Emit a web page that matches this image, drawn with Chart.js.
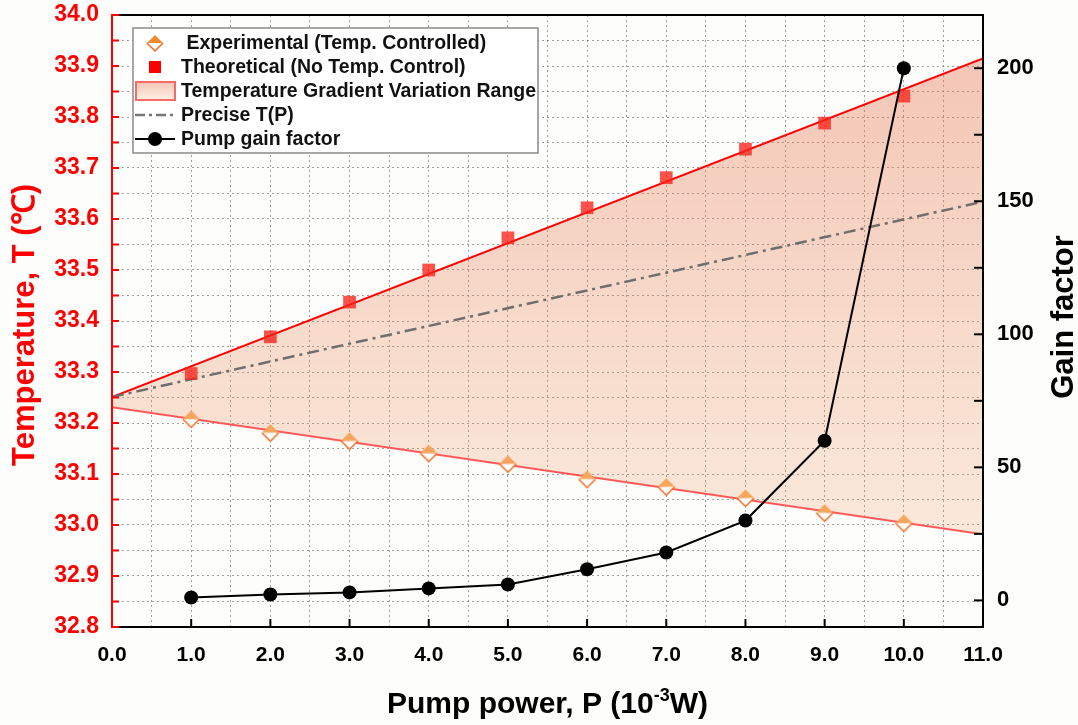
<!DOCTYPE html>
<html lang="en">
<head>
  <meta charset="UTF-8">
  <title>Temperature and gain factor vs pump power</title>
  <script src="https://cdn.jsdelivr.net/npm/chart.js"></script>
  <style>
    html, body { margin: 0; padding: 0; background: #fdfdfb; }
    #wrap { width: 1078px; height: 725px; position: relative; }
  </style>
</head>
<body>
  <div id="wrap"><canvas id="grafico"></canvas></div>

  <script>
    // values
    const powerP = [1, 2, 3, 4, 5, 6, 7, 8, 9, 10];
    const experimentalT = [33.208, 33.181, 33.165, 33.141, 33.120, 33.090, 33.075, 33.053, 33.024, 33.004];
    const theoreticalT = [33.297, 33.369, 33.437, 33.500, 33.563, 33.622, 33.681, 33.737, 33.788, 33.841];
    const gainFactor = [1.1, 2.2, 3.0, 4.5, 6.0, 11.7, 18.0, 30.0, 60.0, 200.0];
    // straight lines across the whole axis
    const rangeP = [0, 11];
    const upperT = [33.251, 33.915];
    const lowerT = [33.231, 32.982];
    const preciseT = [33.251, 33.634];

    // tick labels
    const xLabelTicks = [0, 1, 2, 3, 4, 5, 6, 7, 8, 9, 10, 11];
    const tempLabelTicks = [32.8, 32.9, 33.0, 33.1, 33.2, 33.3, 33.4, 33.5, 33.6, 33.7, 33.8, 33.9, 34.0];
    const gainLabelTicks = [0, 50, 100, 150, 200];
    const gainMinorTicks = [25, 75, 125, 175];

    const FONT = "'Liberation Sans', Arial, sans-serif";

    function pairs(xs, ys) { return xs.map((x, i) => ({ x, y: ys[i] })); }
    function hasTick(list, v) { return list.some(t => Math.abs(t - v) < 1e-6); }

    // keep the plot box fixed: no extra room for overflowing labels
    function fixBox(size, key) {
      return s => {
        s[key] = size;
        s.paddingTop = 0; s.paddingBottom = 0; s.paddingLeft = 0; s.paddingRight = 0;
      };
    }

    // half filled diamond (top filled, bottom only outlined)
    function diamond(size, fill, stroke) {
      const c = document.createElement('canvas');
      c.width = size + 4; c.height = size + 4;
      const g = c.getContext('2d');
      const m = c.width / 2, h = size / 2;
      g.fillStyle = '#fff';
      g.beginPath(); g.moveTo(m - h, m); g.lineTo(m, m + h); g.lineTo(m + h, m); g.closePath(); g.fill();
      g.strokeStyle = stroke; g.lineWidth = 1.5;
      g.beginPath(); g.moveTo(m - h, m); g.lineTo(m, m + h); g.lineTo(m + h, m); g.stroke();
      g.fillStyle = fill;
      g.beginPath(); g.moveTo(m - h, m); g.lineTo(m, m - h); g.lineTo(m + h, m); g.closePath(); g.fill();
      return c;
    }
    const diamondPoint = diamond(17, '#f5a55c', '#f06a1e');
    const diamondLegend = diamond(16, '#f28a30', '#f06a1e');

    function rangeGradient(ctx, top, bottom) {
      const g = ctx.createLinearGradient(0, top, 0, bottom);
      g.addColorStop(0, 'rgba(228,110,80,0.42)');
      g.addColorStop(1, 'rgba(242,160,90,0.16)');
      return g;
    }

    function rangeFill(c) {
      const a = c.chart.chartArea;
      if (!a) return 'rgba(235,130,90,0.3)';
      return rangeGradient(c.chart.ctx, a.top, a.bottom);
    }

    // inward ticks, frame and axis titles
    const framePlugin = {
      id: 'frame',
      afterDatasetsDraw(chart) {
        const { ctx, chartArea: a, scales } = chart;
        const line = (x1, y1, x2, y2) => { ctx.beginPath(); ctx.moveTo(x1, y1); ctx.lineTo(x2, y2); ctx.stroke(); };
        ctx.save();
        ctx.lineWidth = 2;

        ctx.strokeStyle = '#000';
        xLabelTicks.forEach(v => {
          const px = scales.x.getPixelForValue(v);
          line(px, a.bottom, px, a.bottom - 8);
        });
        gainLabelTicks.concat(gainMinorTicks).forEach(v => {
          const py = scales.y2.getPixelForValue(v);
          line(a.right, py, a.right - 9, py);
        });
        line(a.left, a.top, a.right + 1, a.top);
        line(a.right, a.top, a.right, a.bottom);
        line(a.left, a.bottom, a.right + 1, a.bottom);

        ctx.strokeStyle = '#ff0000';
        scales.y.ticks.forEach(t => {
          const py = scales.y.getPixelForValue(t.value);
          line(a.left, py, a.left + 7, py);
        });
        line(a.left, a.top - 1, a.left, a.bottom + 1);
        ctx.restore();

        // axis titles
        const midY = (a.top + a.bottom) / 2;
        ctx.save();
        ctx.font = 'bold 31px ' + FONT;
        ctx.textAlign = 'center';
        ctx.textBaseline = 'alphabetic';
        ctx.fillStyle = '#ff0000';
        ctx.translate(34, midY + 4);
        ctx.rotate(-Math.PI / 2);
        ctx.fillText('Temperature, T (\u2103)', 0, 0);
        ctx.restore();

        ctx.save();
        ctx.font = 'bold 31px ' + FONT;
        ctx.textAlign = 'center';
        ctx.fillStyle = '#000';
        ctx.translate(1073, midY - 4);
        ctx.rotate(-Math.PI / 2);
        ctx.fillText('Gain factor', 0, 0);
        ctx.restore();

        ctx.save();
        ctx.fillStyle = '#000';
        const big = 'bold 30px ' + FONT, small = 'bold 18px ' + FONT;
        const p1 = 'Pump power, P (10', p2 = '-3', p3 = 'W)';
        ctx.font = big; const w1 = ctx.measureText(p1).width, w3 = ctx.measureText(p3).width;
        ctx.font = small; const w2 = ctx.measureText(p2).width;
        let x = (a.left + a.right) / 2 - (w1 + w2 + w3) / 2;
        const base = 713;
        ctx.font = big; ctx.fillText(p1, x, base); x += w1;
        ctx.font = small; ctx.fillText(p2, x, base - 12); x += w2;
        ctx.font = big; ctx.fillText(p3, x, base);
        ctx.restore();
      }
    };

    // legend box in the upper left of the plot
    const legendPlugin = {
      id: 'boxLegend',
      afterDraw(chart) {
        const { ctx, chartArea: a } = chart;
        const bx = a.left + 21, by = a.top + 13, bw = 405, bh = 125;
        const sx = bx + 22, tx = bx + 48, row = 24, y0 = by + 15;
        ctx.save();
        ctx.fillStyle = '#fff';
        ctx.fillRect(bx, by, bw, bh);
        ctx.strokeStyle = '#8a8a8a';
        ctx.lineWidth = 1.5;
        ctx.strokeRect(bx, by, bw, bh);

        // symbols
        ctx.drawImage(diamondLegend, sx - diamondLegend.width / 2, y0 - diamondLegend.height / 2);
        ctx.fillStyle = '#ff0000';
        ctx.fillRect(sx - 6, y0 + row - 6, 12, 12);
        ctx.fillStyle = rangeGradient(ctx, y0 + 2 * row - 9, y0 + 2 * row + 9);
        ctx.fillRect(sx - 19, y0 + 2 * row - 9, 39, 18);
        ctx.strokeStyle = '#f76a6a';
        ctx.lineWidth = 2;
        ctx.strokeRect(sx - 19, y0 + 2 * row - 9, 39, 18);
        ctx.strokeStyle = '#777';
        ctx.lineWidth = 2.5;
        ctx.setLineDash([10, 4, 3, 4]);
        ctx.beginPath(); ctx.moveTo(sx - 20, y0 + 3 * row); ctx.lineTo(sx + 20, y0 + 3 * row); ctx.stroke();
        ctx.setLineDash([]);
        ctx.strokeStyle = '#000';
        ctx.lineWidth = 2;
        ctx.beginPath(); ctx.moveTo(sx - 20, y0 + 4 * row); ctx.lineTo(sx + 20, y0 + 4 * row); ctx.stroke();
        ctx.fillStyle = '#000';
        ctx.beginPath(); ctx.arc(sx, y0 + 4 * row, 7, 0, Math.PI * 2); ctx.fill();

        // texts
        const texts = [' Experimental (Temp. Controlled)', 'Theoretical (No Temp. Control)',
          'Temperature Gradient Variation Range', 'Precise T(P)', 'Pump gain factor'];
        ctx.font = 'bold 19.5px ' + FONT;
        ctx.fillStyle = '#111';
        ctx.textBaseline = 'middle';
        texts.forEach((t, i) => ctx.fillText(t, tx, y0 + i * row + 1));
        ctx.restore();
      }
    };

    const gridColor = 'rgba(120,120,120,0.7)';

    new Chart(document.getElementById('grafico'), {
      type: 'line',
      data: {
        datasets: [
          {
            label: 'Pump gain factor', data: pairs(powerP, gainFactor), yAxisID: 'y2',
            borderColor: '#000', backgroundColor: '#000', borderWidth: 2,
            pointRadius: 7, pointBorderWidth: 0, pointBackgroundColor: '#000', tension: 0
          },
          {
            label: 'Experimental (Temp. Controlled)', data: pairs(powerP, experimentalT), yAxisID: 'y',
            showLine: false, pointStyle: diamondPoint, pointRadius: 9
          },
          {
            label: 'Theoretical (No Temp. Control)', data: pairs(powerP, theoreticalT), yAxisID: 'y',
            showLine: false, pointStyle: 'rect', pointRadius: 9, pointBorderWidth: 0,
            pointBackgroundColor: 'rgba(250,35,25,0.78)', backgroundColor: 'rgba(250,35,25,0.78)'
          },
          {
            label: 'Precise T(P)', data: pairs(rangeP, preciseT), yAxisID: 'y',
            borderColor: '#6e6e6e', borderWidth: 2.5, borderDash: [12, 5, 3, 5], pointRadius: 0
          },
          {
            label: 'Upper bound', data: pairs(rangeP, upperT), yAxisID: 'y',
            borderColor: '#ff0000', borderWidth: 2, pointRadius: 0, fill: '+1', backgroundColor: rangeFill
          },
          {
            label: 'Lower bound', data: pairs(rangeP, lowerT), yAxisID: 'y',
            borderColor: '#ff5a5a', borderWidth: 2, pointRadius: 0, fill: false
          }
        ]
      },
      options: {
        responsive: true,
        maintainAspectRatio: false,
        animation: false,
        layout: { padding: { top: 15, left: 0, right: 0, bottom: 0 } },
        plugins: {
          legend: { display: false },
          tooltip: { enabled: false },
          filler: { propagate: false, drawTime: 'beforeDatasetsDraw' }
        },
        scales: {
          x: {
            type: 'linear', position: 'bottom', min: 0, max: 11,
            afterFit: fixBox(98, 'height'),
            ticks: {
              stepSize: 0.5, autoSkip: false, maxRotation: 0, padding: 16, color: '#000',
              font: { family: FONT, size: 21, weight: 'bold' },
              callback: v => hasTick(xLabelTicks, v) ? v.toFixed(1) : ''
            },
            grid: { color: gridColor, lineWidth: 1, drawTicks: false },
            border: { display: false, dash: [2, 3] }
          },
          y: {
            type: 'linear', position: 'left', min: 32.8, max: 34.0,
            afterFit: fixBox(112, 'width'),
            ticks: {
              stepSize: 0.05, autoSkip: false, padding: 13, color: '#ff0000',
              font: { family: FONT, size: 23, weight: 'bold' },
              callback: v => hasTick(tempLabelTicks, v) ? v.toFixed(1) : ''
            },
            grid: { color: gridColor, lineWidth: 1, drawTicks: false },
            border: { display: false, dash: [2, 3] }
          },
          y2: {
            type: 'linear', position: 'right', min: -10, max: 220,
            afterFit: fixBox(95, 'width'),
            ticks: {
              stepSize: 25, autoSkip: false, padding: 14, color: '#000',
              font: { family: FONT, size: 22, weight: 'bold' },
              callback: v => hasTick(gainLabelTicks, v) ? String(v) : ''
            },
            grid: { drawOnChartArea: false, drawTicks: false },
            border: { display: false }
          }
        }
      },
      plugins: [framePlugin, legendPlugin]
    });
  </script>
</body>
</html>
